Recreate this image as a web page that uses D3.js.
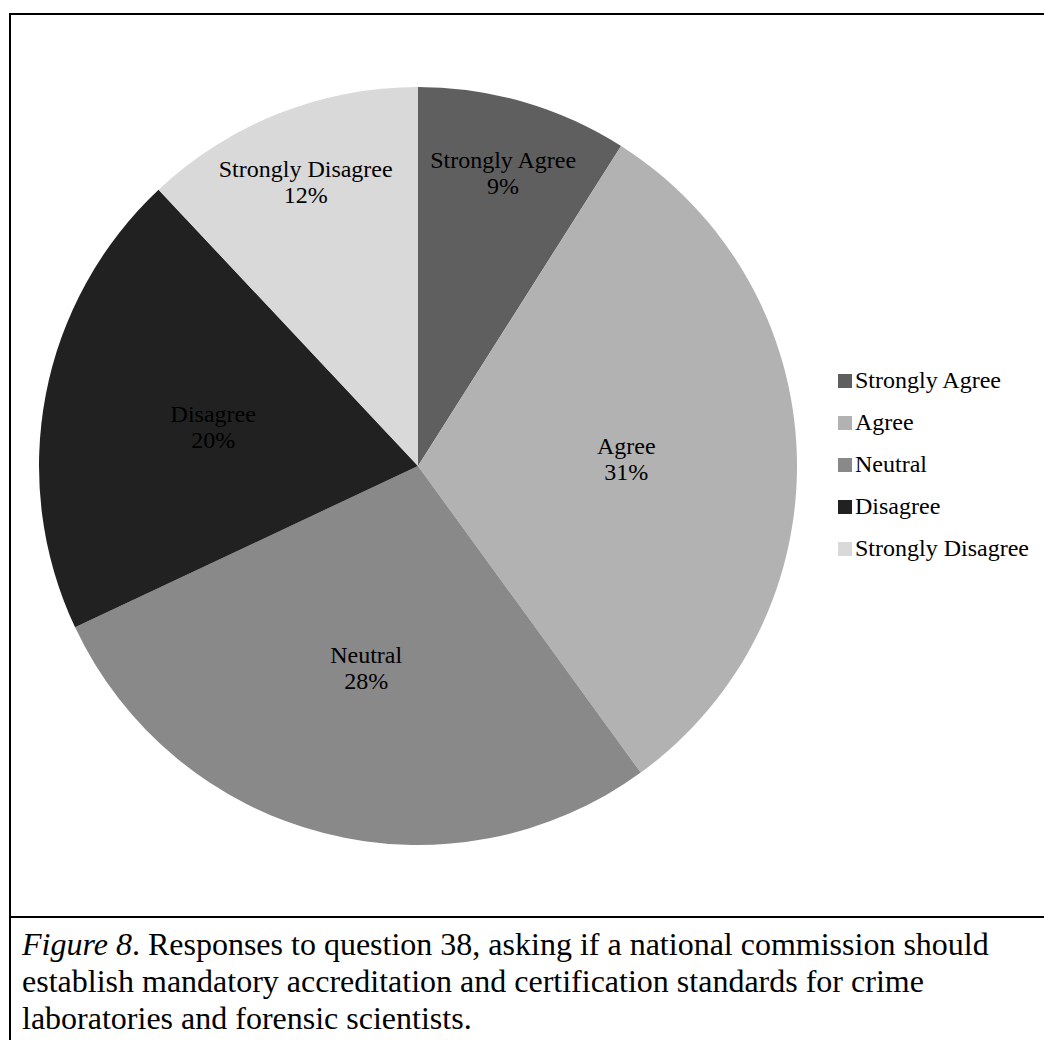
<!DOCTYPE html>
<html>
<head>
<meta charset="utf-8">
<script src="https://cdn.jsdelivr.net/npm/d3@7"></script>
<style>
  body { margin: 0; background: #fff; }
  svg { display: block; }
</style>
</head>
<body>
<svg id="chart" width="1044" height="1040"></svg>
<script>
const categories = ["Strongly Agree", "Agree", "Neutral", "Disagree", "Strongly Disagree"];
const percents = [9, 31, 28, 20, 12];
const shades = ["#5f5f5f", "#b2b2b2", "#898989", "#212121", "#d9d9d9"];
const captionLines = [
  "Responses to question 38, asking if a national commission should",
  "establish mandatory accreditation and certification standards for crime",
  "laboratories and forensic scientists."
];

const width = 1044, height = 1040;
const cx = 418, cy = 466, radius = 379;
const serif = "'Liberation Serif', 'Times New Roman', serif";

const svg = d3.select("#chart");

color = d3.scaleOrdinal(shades).domain(categories);

pie = d3.pie()
  .sort(null)
  .value(d => d.value);

arc = d3.arc()
  .innerRadius(0)
  .outerRadius(radius);

const data = categories.map((c, i) => ({ name: c, value: percents[i] }));
const arcs = pie(data);

// frame round the figure
svg.append("g")
  .attr("stroke", "#000")
  .attr("stroke-width", 2)
  .call(g => {
    g.append("line").attr("x1", 10).attr("y1", 14).attr("x2", 1044).attr("y2", 14);
    g.append("line").attr("x1", 10).attr("y1", 13).attr("x2", 10).attr("y2", 1040);
    g.append("line").attr("x1", 10).attr("y1", 917).attr("x2", 1044).attr("y2", 917);
  });

const pieG = svg.append("g")
  .attr("transform", `translate(${cx},${cy})`);

pieG.selectAll("path")
  .data(arcs)
  .enter().append("path")
    .attr("d", arc)
    .attr("fill", d => color(d.data.name));

// labels: small slices sit further out, like Excel does
const label = pieG.selectAll("text")
  .data(arcs)
  .enter().append("text")
    .attr("font-family", serif)
    .attr("font-size", 24)
    .attr("fill", "#000")
    .attr("text-anchor", "middle")
    .attr("transform", d => {
      const r = d.data.value < 15 ? radius * 0.805 : radius * 0.55;
      const a = (d.startAngle + d.endAngle) / 2;
      return `translate(${Math.sin(a) * r},${-Math.cos(a) * r})`;
    });

label.append("tspan")
  .attr("x", 0)
  .attr("y", -5)
  .text(d => d.data.name);

label.append("tspan")
  .attr("x", 0)
  .attr("y", 21)
  .text(d => d.data.value + "%");

// legend
const legend = svg.append("g")
  .attr("transform", "translate(838,388)")
  .selectAll("g")
  .data(categories)
  .enter().append("g")
    .attr("transform", (d, i) => `translate(0,${i * 42})`);

legend.append("rect")
  .attr("x", 0)
  .attr("y", -14)
  .attr("width", 14)
  .attr("height", 14)
  .attr("fill", d => color(d));

legend.append("text")
  .attr("x", 17)
  .attr("y", 0)
  .attr("font-family", serif)
  .attr("font-size", 24)
  .attr("fill", "#000")
  .text(d => d);

// caption
const caption = svg.append("g")
  .attr("font-family", serif)
  .attr("font-size", 32)
  .attr("fill", "#000");

captionLines.forEach((line, i) => {
  const t = caption.append("text")
    .attr("x", 22)
    .attr("y", 955 + i * 37);
  if (i === 0) {
    t.append("tspan").attr("font-style", "italic").text("Figure 8");
    t.append("tspan").text(". ");
  }
  t.append("tspan").text(line);
});
</script>
</body>
</html>
